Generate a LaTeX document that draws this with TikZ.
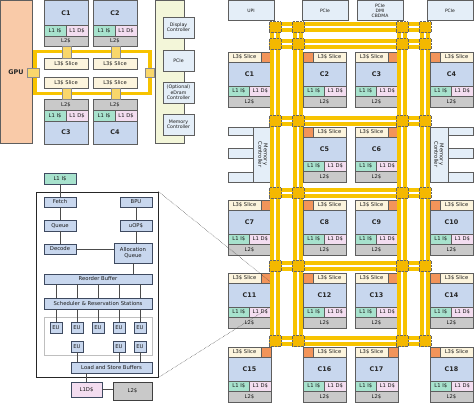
\documentclass[tikz,border=0pt]{standalone}
\usepackage{fontspec}
\setmainfont{DejaVu Sans}
\usetikzlibrary{calc}

\definecolor{coreblue}{HTML}{C8D7EE}
\definecolor{l1icol}{HTML}{A7E2CD}
\definecolor{l1dcol}{HTML}{F3DDF0}
\definecolor{l2col}{HTML}{C9C9C9}
\definecolor{slicecol}{HTML}{FCF4DD}
\definecolor{sliceorange}{HTML}{F2945A}
\definecolor{gpucol}{HTML}{F9CAA8}
\definecolor{panelcol}{HTML}{F3F6D9}
\definecolor{iocol}{HTML}{E4EEF8}
\definecolor{ringcol}{HTML}{F7C300}
\definecolor{crosscol}{HTML}{F4B800}
\definecolor{stopcol}{HTML}{F9D76B}
\definecolor{tileline}{HTML}{5E5E5E}
\definecolor{stageline}{HTML}{3E4A60}

\tikzset{
  cell/.style={draw=tileline, line width=0.6pt},
  lbl/.style={inner sep=0pt, font=\fontsize{5.2}{5.6}\selectfont, text=black!90, align=center},
  corelbl/.style={inner sep=0pt, font=\fontsize{6.4}{6.6}\selectfont\bfseries, text=black!85},
  stage/.style={draw=stageline, fill=coreblue, line width=0.6pt, inner sep=0pt,
    font=\fontsize{5.3}{6}\selectfont, text=black!90, align=center},
  link/.style={draw=black!70, line width=0.7pt},
  bus/.style={line width=10pt, ringcol},
  stripe/.style={line width=1.4pt, white},
  cross/.style={fill=crosscol, draw=black!60, densely dotted, line width=0.4pt},
  stop/.style={fill=stopcol, draw=black!45, line width=0.5pt},
  zoomline/.style={densely dotted, line width=0.5pt, black!75},
}

% #1,#2: top left corner, #3: core name, #4: 0 = orange left, 1 = orange right
\newcommand{\meshcore}[4]{
  \draw[cell, fill=slicecol] (#1,#2) rectangle ++(43,10);
  \draw[cell, fill=sliceorange] ({#1+33*#4},#2) rectangle ++(10,10);
  \node[lbl] (#3-l3) at ({#1+26.5-10*#4},#2+5) {L3\$ Slice};
  \draw[cell, fill=coreblue] (#1,#2+10) rectangle ++(43,24);
  \node[corelbl] (#3) at (#1+21.5,#2+22) {#3};
  \draw[cell, fill=l1icol] (#1,#2+34) rectangle ++(21.5,10);
  \draw[cell, fill=l1dcol] (#1+21.5,#2+34) rectangle ++(21.5,10);
  \node[lbl] (#3-l1i) at (#1+10.75,#2+39) {L1 I\$};
  \node[lbl] (#3-l1d) at (#1+32.25,#2+39) {L1 D\$};
  \draw[cell, fill=l2col] (#1,#2+44) rectangle ++(43,11);
  \node[lbl] (#3-l2) at (#1+21.5,#2+49.5) {L2\$};
}

\begin{document}
\begin{tikzpicture}[x=1pt,y=-1pt]
  \useasboundingbox (0,0) rectangle (474,405);

  %%%%% client chip %%%%%
  \draw[cell, fill=gpucol] (0.5,0.5) rectangle (32,143);
  \node[corelbl] (gpu) at (16,72.5) {GPU};

  \draw[line width=3.5pt, ringcol] (35,51.5) rectangle (150,93.5);

  \foreach \x/\n in {44/C1,93/C2} {
    \draw[cell, fill=coreblue] (\x,0.5) rectangle ++(44,24.5);
    \node[corelbl] (top-\n) at (\x+22,13) {\n};
    \draw[cell, fill=l1icol] (\x,25) rectangle ++(22,11);
    \draw[cell, fill=l1dcol] (\x+22,25) rectangle ++(22,11);
    \node[lbl] (top-\n-l1i) at (\x+11,30.5) {L1 I\$};
    \node[lbl] (top-\n-l1d) at (\x+33,30.5) {L1 D\$};
    \draw[cell, fill=l2col] (\x,36) rectangle ++(44,10);
    \node[lbl] (top-\n-l2) at (\x+22,41) {L2\$};
  }
  \foreach \x/\n in {44/C3,93/C4} {
    \draw[cell, fill=l2col] (\x,99) rectangle ++(44,11);
    \node[lbl] (top-\n-l2) at (\x+22,104.5) {L2\$};
    \draw[cell, fill=l1icol] (\x,110) rectangle ++(22,11);
    \draw[cell, fill=l1dcol] (\x+22,110) rectangle ++(22,11);
    \node[lbl] (top-\n-l1i) at (\x+11,115.5) {L1 I\$};
    \node[lbl] (top-\n-l1d) at (\x+33,115.5) {L1 D\$};
    \draw[cell, fill=coreblue] (\x,121) rectangle ++(44,23);
    \node[corelbl] (top-\n) at (\x+22,132.5) {\n};
  }
  \foreach \x in {44,93} {
    \foreach \y in {58,77} {
      \draw[cell, fill=slicecol] (\x,\y) rectangle ++(44,11);
      \node[lbl] at (\x+22,\y+5.5) {L3\$ Slice};
    }
    \draw[stop] (\x+18,46) rectangle ++(9,12);
    \draw[stop] (\x+18,88) rectangle ++(9,11);
  }
  \draw[stop] (27,68) rectangle (39,77);
  \draw[stop] (145,68) rectangle (154,77);

  \draw[cell, fill=panelcol] (155,0.5) rectangle (184,143);
  \foreach \y/\t in {17/Display\\Controller, 50/PCIe, 82/(Optional)\\eDram\\Controller, 114/Memory\\Controller} {
    \draw[cell, fill=iocol] (163,\y) rectangle ++(31,21);
    \node[lbl, font=\fontsize{4.7}{5.3}\selectfont] at (178.5,\y+10.5) {\t};
  }

  %%%%% core pipeline %%%%%
  \node[draw=black!85, line width=0.9pt, minimum width=122pt, minimum height=185pt, inner sep=0pt] (corebox) at (97,284.5) {};
  \node[draw=black!25, line width=0.8pt, minimum width=108pt, minimum height=38pt, inner sep=0pt] (eubox) at (98,336) {};

  \node[stage, fill=l1icol, minimum width=32pt, minimum height=11pt] (l1i) at (60,178.5) {L1 I\$};
  \node[stage, minimum width=32pt, minimum height=10pt] (fetch) at (60,202) {Fetch};
  \node[stage, minimum width=32pt, minimum height=10pt] (bpu) at (136,202) {BPU};
  \node[stage, minimum width=32pt, minimum height=11pt] (queue) at (60,225.5) {Queue};
  \node[stage, minimum width=32pt, minimum height=11pt] (uop) at (136,225.5) {uOP\$};
  \node[stage, minimum width=32pt, minimum height=10pt] (decode) at (60,249) {Decode};
  \node[stage, minimum width=38pt, minimum height=20pt] (alloc) at (133,253) {Allocation\\Queue};
  \node[stage, minimum width=108pt, minimum height=10pt] (rob) at (98,279) {Reorder Buffer};
  \node[stage, minimum width=108pt, minimum height=11pt] (sched) at (98,303.5) {Scheduler \&\ Reservation Stations};
  \foreach \x/\n in {56/eua,77/eub,98/euc,119/eud,140/eue}
    \node[stage, minimum width=12pt, minimum height=11pt] (\n) at (\x,327.5) {EU};
  \foreach \x/\n in {77/euf,119/eug,140/euh}
    \node[stage, minimum width=12pt, minimum height=11pt] (\n) at (\x,346.5) {EU};
  \node[stage, minimum width=81pt, minimum height=11pt] (lsb) at (111.5,367.5) {Load and Store Buffers};
  \node[stage, fill=l1dcol, minimum width=31pt, minimum height=15pt] (l1d) at (86.5,389.5) {L1D\$};
  \node[stage, fill=l2col, draw=black!75, minimum width=39pt, minimum height=18pt] (l2) at (132.5,391) {L2\$};

  \draw[link] (l1i) -- (fetch);
  \draw[link] (fetch) -- (queue);
  \draw[link] (queue) -- (decode);
  \draw[link] (bpu) -- (uop);
  \draw[link] (decode.east) -- (decode.east -| alloc.west);
  \draw[link] (uop.south) -- (uop.south |- alloc.north);
  \draw[link] (alloc.south) -- (alloc.south |- rob.north);
  \foreach \n in {eua,eub,euc,eud,eue} {
    \draw[link] (\n.north |- rob.south) -- (\n.north |- sched.north);
    \draw[link] (\n.north |- sched.south) -- (\n.north);
  }
  \foreach \n in {euf,eug,euh}
    \draw[link] (\n.south) -- (\n.south |- lsb.north);
  \draw[link] (lsb.south -| l1d.north) -- (l1d.north);
  \draw[link] (l1d.east) -- (l1d.east -| l2.west);

  %%%%% server mesh %%%%%
  \foreach \x/\y/\t in {228/UPI/UPI, 302/PCIe/PCIe, 357/DMI/PCIe\\DMI\\CBDMA, 427/PCIe2/PCIe} {
    \draw[cell, fill=iocol] (\x,0.5) rectangle ++(46,20);
    \node[lbl, font=\fontsize{4.5}{5}\selectfont] (io-\y) at (\x+23,10.5) {\t};
  }

  % memory controllers
  \draw[cell, fill=iocol] (253,127) rectangle (273,182);
  \node[lbl, rotate=-90] (imc-left) at (263,154.5) {Memory\\Controller};
  \draw[cell, fill=iocol] (430,127) rectangle (448,182);
  \node[lbl, rotate=-90] (imc-right) at (439,154.5) {Memory\\Controller};
  \foreach \y/\h in {127/8,148/10,172/10} {
    \draw[cell, fill=iocol] (228,\y) rectangle ++(25,\h);
    \draw[cell, fill=iocol] (448,\y) rectangle ++(25.5,\h);
  }

  \meshcore{228}{52}{C1}{1}
  \meshcore{303}{52}{C2}{0}
  \meshcore{355}{52}{C3}{1}
  \meshcore{430}{52}{C4}{0}
  \meshcore{303}{127}{C5}{0}
  \meshcore{355}{127}{C6}{1}
  \meshcore{228}{200}{C7}{1}
  \meshcore{303}{200}{C8}{0}
  \meshcore{355}{200}{C9}{1}
  \meshcore{430}{200}{C10}{0}
  \meshcore{228}{273}{C11}{1}
  \meshcore{303}{273}{C12}{0}
  \meshcore{355}{273}{C13}{1}
  \meshcore{430}{273}{C14}{0}
  \meshcore{228}{347}{C15}{1}
  \meshcore{303}{347}{C16}{0}
  \meshcore{355}{347}{C17}{1}
  \meshcore{430}{347}{C18}{0}

  \coordinate (zoomtop) at (272,283);
  \coordinate (zoombot) at (272,306);
  \draw[zoomline] (corebox.north east) -- (zoomtop);
  \draw[zoomline] (corebox.south east) -- (zoombot);

  \foreach \x in {275,298,402,425}
    \draw[bus] (\x,22) -- (\x,346);
  \foreach \y in {27,44,121,193,266,341}
    \draw[bus] (270,\y) -- (430,\y);
  \foreach \x in {275,298,402,425}
    \draw[stripe] (\x,27) -- (\x,341);
  \foreach \y in {27,44,121,193,266,341}
    \draw[stripe] (275,\y) -- (425,\y);
  \foreach \x in {275,298,402,425}
    \foreach \y in {27,44,121,193,266,341}
      \draw[cross] (\x-6,\y-5.5) rectangle ++(12,11);

\end{tikzpicture}
\end{document}
